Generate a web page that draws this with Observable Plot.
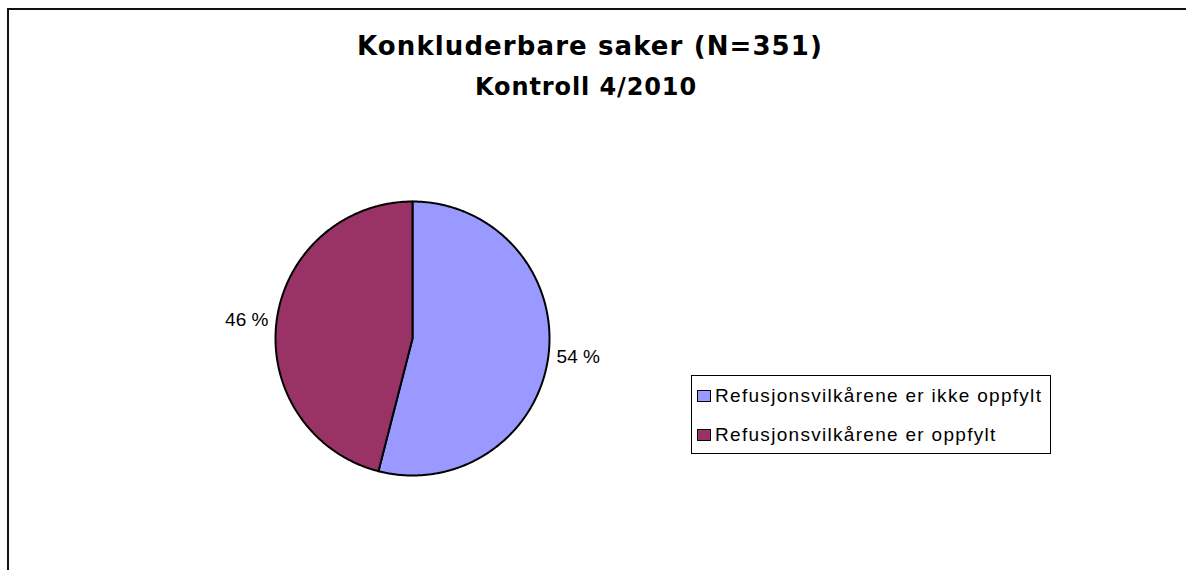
<!DOCTYPE html>
<html>
<head>
<meta charset="utf-8">
<script src="https://cdn.jsdelivr.net/npm/d3@7"></script>
<script src="https://cdn.jsdelivr.net/npm/@observablehq/plot@0.6"></script>
<style>
  html, body { margin: 0; padding: 0; background: #fff; overflow: hidden; }
  #wrap { position: relative; width: 1186px; height: 570px; overflow: hidden; }
  #frame { position: absolute; left: 7px; top: 8px; width: 1300px; height: 700px;
           border-top: 2px solid #111; border-left: 2px solid #111; }
  #chart { position: absolute; left: 0; top: 0; }
  .title { position: absolute; left: 0; text-align: center; white-space: nowrap;
           font-family: "DejaVu Sans", Verdana, sans-serif; font-weight: bold; color: #000; line-height: 1; }
  #t1 { top: 33px; width: 1180px; font-size: 26px; letter-spacing: 1.1px; }
  #t2 { top: 75px; width: 1172px; font-size: 24px; letter-spacing: 0.9px; }
  #legend { position: absolute; left: 691px; top: 375px; width: 358px; height: 77px;
            border: 1px solid #000; background: #fff;
            font-family: "Liberation Sans", Arial, sans-serif; font-size: 19px; color: #000; }
  .item { position: absolute; left: 5px; display: flex; align-items: center; letter-spacing: 1.3px; white-space: nowrap; }
  .sw { width: 12px; height: 10px; border: 1.5px solid #000; margin-right: 4px; }
</style>
</head>
<body>
<div id="wrap">
  <div id="frame"></div>
  <div id="chart"></div>
  <div class="title" id="t1"></div>
  <div class="title" id="t2"></div>
  <div id="legend"></div>
</div>
<script>
const title = "Konkluderbare saker (N=351)";
const subtitle = "Kontroll 4/2010";
const categories = ["Refusjonsvilkårene er ikke oppfylt", "Refusjonsvilkårene er oppfylt"];
const shares = [54, 46];
const sliceLabels = ["54 %", "46 %"];
const colors = ["#9999FF", "#993366"];

document.getElementById("t1").textContent = title;
document.getElementById("t2").textContent = subtitle;

const arcs = d3.pie().sort(null).value(d => d)(shares);

// polygon outline of each slice, in unit-circle coordinates
const points = [];
arcs.forEach((a, i) => {
  const cat = categories[i];
  points.push({cat, x: 0, y: 0});
  const n = Math.max(2, Math.ceil((a.endAngle - a.startAngle) / (Math.PI / 360)));
  for (let k = 0; k <= n; k++) {
    const t = a.startAngle + (a.endAngle - a.startAngle) * k / n;
    points.push({cat, x: Math.sin(t), y: Math.cos(t)});
  }
  points.push({cat, x: 0, y: 0});
});

const labelR = 1.06;
const labels = arcs.map((a, i) => {
  const m = (a.startAngle + a.endAngle) / 2;
  return {label: sliceLabels[i], x: labelR * Math.sin(m), y: labelR * Math.cos(m), right: Math.sin(m) >= 0};
});

const cx = 412, cy = 338, r = 137;
const plot = Plot.plot({
  width: 1186,
  height: 570,
  margin: 0,
  style: {background: "transparent", overflow: "visible"},
  x: {domain: [-1, 1], range: [cx - r, cx + r], axis: null},
  y: {domain: [-1, 1], range: [cy + r, cy - r], axis: null},
  color: {domain: categories, range: colors},
  marks: [
    Plot.line(points, {x: "x", y: "y", z: "cat", fill: "cat", stroke: "#000", strokeWidth: 2, strokeLinejoin: "round"}),
    Plot.text(labels.filter(d => d.right), {x: "x", y: "y", text: "label", textAnchor: "start", fontSize: 19, fontFamily: "Liberation Sans, Arial, sans-serif", fill: "#000"}),
    Plot.text(labels.filter(d => !d.right), {x: "x", y: "y", text: "label", textAnchor: "end", fontSize: 19, fontFamily: "Liberation Sans, Arial, sans-serif", fill: "#000"})
  ]
});
document.getElementById("chart").appendChild(plot);

const legend = document.getElementById("legend");
categories.forEach((c, i) => {
  const it = document.createElement("div");
  it.className = "item";
  it.style.top = (9 + i * 39) + "px";
  const sw = document.createElement("div");
  sw.className = "sw";
  sw.style.background = colors[i];
  const tx = document.createElement("span");
  tx.textContent = c;
  it.appendChild(sw);
  it.appendChild(tx);
  legend.appendChild(it);
});
</script>
</body>
</html>
